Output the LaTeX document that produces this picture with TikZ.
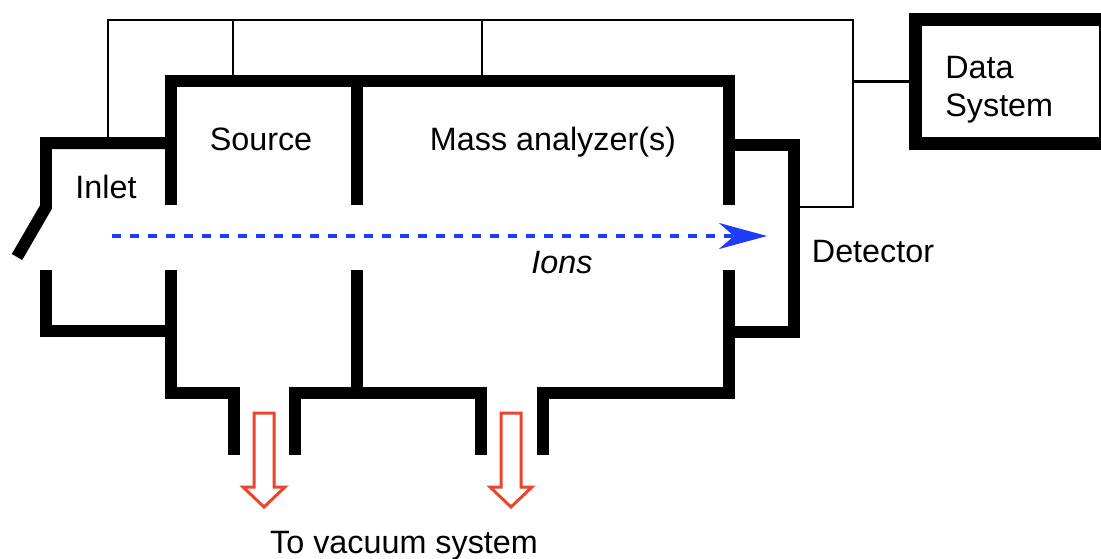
\documentclass[tikz,border=0pt]{standalone}
\usepackage{fontspec}
\setmainfont{Liberation Sans}
\usetikzlibrary{arrows.meta}
\definecolor{ionblue}{RGB}{30,60,245}
\definecolor{pumpred}{RGB}{235,70,45}

\begin{document}
\begin{tikzpicture}[x=0.02cm, y=-0.02cm,
	every node/.style={font=\fontsize{18.4}{21.5}\selectfont},
	wall/.style={line width=0.24cm},
	wire/.style={line width=0.05cm},
	ionbeam/.style={ionblue, line width=0.065cm, dash pattern=on 0.18cm off 0.18cm, -{Stealth[length=0.96cm, width=0.52cm, inset=0.3cm]}},
	pumparrow/.style={pumpred, line width=0.06cm, fill=white},
	lbl/.style={anchor=base, inner sep=0pt}]
	\useasboundingbox (0,0) rectangle (1101,558);
	\clip (0,0) rectangle (1101,558);
	% inlet with its door
	\draw[wall] (17,257) -- (46,207) -- (46,143) -- (171,143);
	\draw[wall] (46,270) -- (46,331) -- (171,331);
	% source and mass analyzer housing
	\draw[wall] (171,205) -- (171,81) -- (729,81) -- (729,205);
	\draw[wall] (357,81) -- (357,205);
	\draw[wall] (357,270) -- (357,393);
	\draw[wall] (171,270) -- (171,393) -- (234,393) -- (234,455);
	\draw[wall] (295,455) -- (295,393) -- (481,393) -- (481,455);
	\draw[wall] (543,455) -- (543,393) -- (729,393) -- (729,270);
	% detector
	\draw[wall] (729,145) -- (794,145) -- (794,332) -- (729,332);
	% data system
	\node[draw, line width=0.26cm, outer sep=0pt, minimum width=3.8cm, minimum height=2.5cm] (data) at (1010,81.5) {};
	\coordinate (tap) at (853,81.5);
	\draw[wire] (108,143) -- (108,20) -- (853,20) -- (853,207) -- (794,207);
	\draw[wire] (233,20) -- (233,81);
	\draw[wire] (482,20) -- (482,81);
	\draw[wire] (tap) -- (tap -| data.west);
	% ions and pumping
	\draw[ionbeam] (112,236) -- (767,236);
	\foreach \x in {264,511}
		\draw[pumparrow] (\x-10,413) -- ++(20,0) -- ++(0,74) -- ++(11,0) -- (\x,507) -- (\x-21,487) -- ++(11,0) -- cycle;
	% labels
	\node[lbl] (inlet) at (106,198) {Inlet};
	\node[lbl] (source) at (261,150) {Source};
	\node[lbl] (analyzer) at (553,150) {Mass analyzer(s)};
	\node[lbl] (detector) at (873,262) {Detector};
	\node[lbl] (ions) at (562,273) {\itshape Ions};
	\node[lbl] (vacuum) at (404,553) {To vacuum system};
	\node[lbl, anchor=base west, align=left] (datalbl) at (945,116) {Data\\System};
\end{tikzpicture}
\end{document}
